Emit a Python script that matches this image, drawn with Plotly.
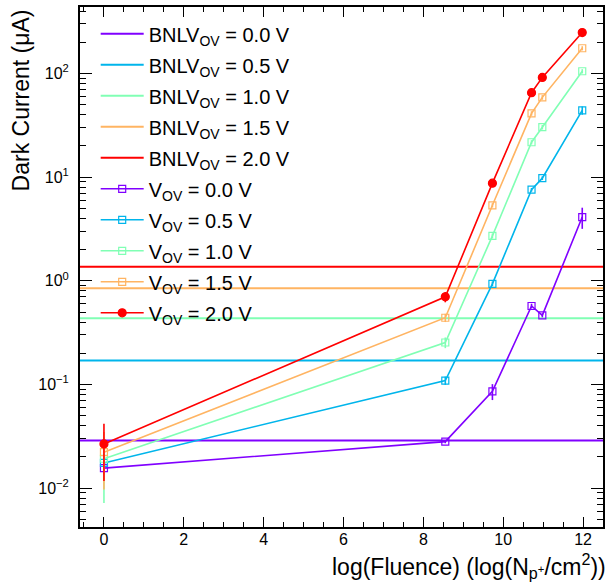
import plotly.graph_objects as go

# ---- data ----
fluence_log = [0, 8.55, 9.73, 10.71, 10.98, 11.98]
ov_labels = ["0.0", "0.5", "1.0", "1.5", "2.0"]
current_00 = [0.0156, 0.0281, 0.0857, 0.571, 0.464, 4.12]
current_05 = [0.0175, 0.109, 0.935, 7.56, 9.77, 44.0]
current_10 = [0.0192, 0.254, 2.71, 21.7, 30.3, 105.0]
current_15 = [0.0222, 0.44, 5.35, 41.2, 58.8, 175.0]
current_20 = [0.0267, 0.70, 8.75, 65.2, 91.6, 248.0]
error_00 = [0.002, 0.001, 0.015, 0.03, 0.02, 0.95]
error_05 = [0.004, 0.01, 0.05, 0.3, 0.4, 4.0]
error_10 = [0.012, 0.03, 0.15, 1.0, 1.5, 5.0]
error_15 = [0.0125, 0.04, 0.25, 2.0, 3.0, 8.0]
error_20 = [0.015, 0.08, 0.4, 3.0, 4.0, 12.0]
bnl_levels = [0.0288, 0.170, 0.435, 0.845, 1.365]
y_tickvals = [0.01, 0.1, 1, 10, 100]
y_ticktext = ["10<sup>−2</sup>", "10<sup>−1</sup>", "10<sup>0</sup>", "10<sup>1</sup>", "10<sup>2</sup>"]

X_RANGE = [-0.6, 12.5]
Y_RANGE_LOG = [-2.375, 2.641]

colors = ["#8000ff", "#00b5eb", "#80ffb4", "#ffb462", "#ff0000"]
currents = [current_00, current_05, current_10, current_15, current_20]
errors = [error_00, error_05, error_10, error_15, error_20]

FONT = "Liberation Sans, Arial, Helvetica, sans-serif"

fig = go.Figure()

for i, lvl in enumerate(bnl_levels):
    fig.add_trace(go.Scatter(
        x=X_RANGE, y=[lvl, lvl], mode="lines",
        line=dict(color=colors[i], width=2),
        name=f"BNLV<sub>OV</sub> = {ov_labels[i]} V",
        legendgroup=f"b{i}",
    ))

for i in range(5):
    filled = (i == 4)
    fig.add_trace(go.Scatter(
        x=fluence_log, y=currents[i], mode="lines+markers",
        line=dict(color=colors[i], width=1.6),
        marker=dict(
            symbol="circle" if filled else "square-open",
            size=8 if filled else 7,
            color=colors[i],
            line=dict(width=1.2, color=colors[i]),
        ),
        error_y=dict(type="data", array=errors[i], color=colors[i], thickness=1.6, width=0),
        name=f"V<sub>OV</sub> = {ov_labels[i]} V",
        legendgroup=f"d{i}",
    ))

fig.update_layout(
    width=610, height=583,
    margin=dict(l=80, r=6, t=5, b=56),
    paper_bgcolor="white", plot_bgcolor="white",
    font=dict(family=FONT, color="black", size=16),
    showlegend=True,
    legend=dict(
        x=0.03, y=0.986, xanchor="left", yanchor="top",
        bgcolor="rgba(0,0,0,0)", borderwidth=0,
        font=dict(size=20, family=FONT),
        tracegroupgap=2,
        itemwidth=43,
    ),
    xaxis=dict(
        range=X_RANGE, showgrid=False, zeroline=False,
        showline=True, linecolor="black", linewidth=2, mirror="allticks",
        ticks="inside", ticklen=10, tickwidth=1, tickcolor="black",
        dtick=2, tick0=0,
        minor=dict(ticks="inside", ticklen=5, dtick=0.5, tickcolor="black"),
        tickfont=dict(size=16),
        ticklabelstandoff=-3,
    ),
    yaxis=dict(
        type="log", range=Y_RANGE_LOG, showgrid=False, zeroline=False,
        showline=True, linecolor="black", linewidth=2, mirror="allticks",
        ticks="inside", ticklen=12, tickwidth=1, tickcolor="black",
        tickvals=y_tickvals, ticktext=y_ticktext,
        minor=dict(ticks="inside", ticklen=6, dtick="D1", tickcolor="black"),
        tickfont=dict(size=16),
        ticklabelstandoff=6,
    ),
    annotations=[
        dict(text="log(Fluence) (log(N<sub>p<sup>+</sup></sub>/cm<sup>2</sup>))",
             xref="paper", yref="paper", x=1.0095, y=-0.075, xanchor="right", yanchor="middle",
             showarrow=False, font=dict(size=23, family=FONT)),
        dict(text="Dark Current (μA)", textangle=-90,
             xref="paper", yref="paper", x=-0.112, y=1.0, xanchor="center", yanchor="top",
             showarrow=False, font=dict(size=23, family=FONT)),
    ],
)

fig.write_html("out.html", post_script="document.body.style.margin='0';",
               config={"displayModeBar": False})
